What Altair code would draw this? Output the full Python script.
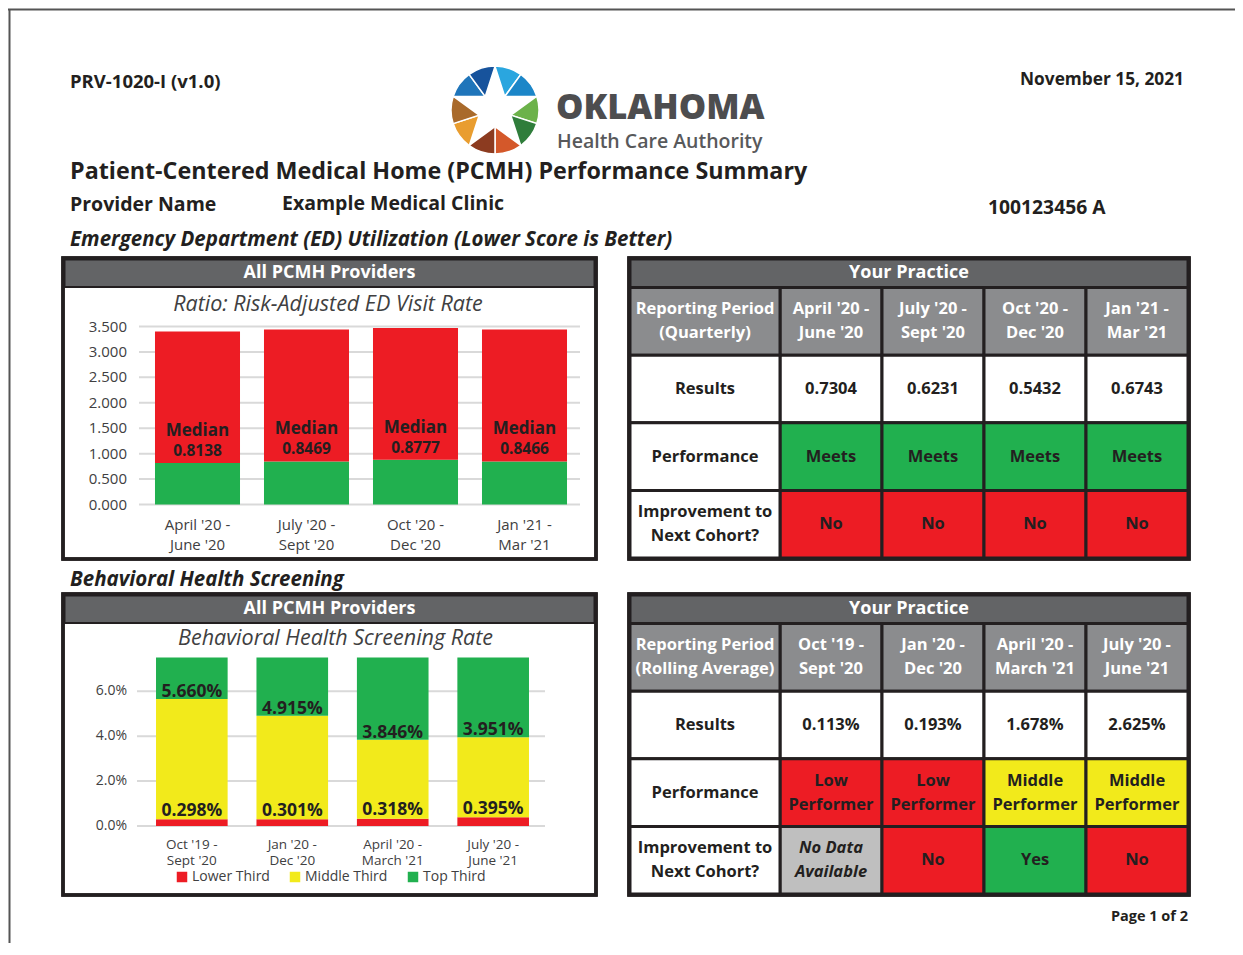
import altair as alt
import pandas as pd

# ---------------- data ----------------
doc_code = "PRV-1020-I (v1.0)"
doc_date = "November 15, 2021"
org_name = "OKLAHOMA"
org_sub = "Health Care Authority"
report_title = "Patient-Centered Medical Home (PCMH) Performance Summary"
provider_label = "Provider Name"
provider_name = "Example Medical Clinic"
provider_id = "100123456 A"
ed_heading = "Emergency Department (ED) Utilization (Lower Score is Better)"
bh_heading = "Behavioral Health Screening"
panel_left = "All PCMH Providers"
panel_right = "Your Practice"
ed_chart_title = "Ratio: Risk-Adjusted ED Visit Rate"
bh_chart_title = "Behavioral Health Screening Rate"
median_word = "Median"
page_note = "Page 1 of 2"

ed_periods = ["April '20 -\nJune '20", "July '20 -\nSept '20", "Oct '20 -\nDec '20", "Jan '21 -\nMar '21"]
ed_median = [0.8138, 0.8469, 0.8777, 0.8466]
ed_range_top = [3.40, 3.44, 3.47, 3.44]
ed_ticks = [0.0, 0.5, 1.0, 1.5, 2.0, 2.5, 3.0, 3.5]
ed_results = ["0.7304", "0.6231", "0.5432", "0.6743"]
ed_performance = ["Meets", "Meets", "Meets", "Meets"]
ed_improvement = ["No", "No", "No", "No"]
ed_row_labels = ["Reporting Period\n(Quarterly)", "Results", "Performance", "Improvement to\nNext Cohort?"]

bh_periods = ["Oct '19 -\nSept '20", "Jan '20 -\nDec '20", "April '20 -\nMarch '21", "July '20 -\nJune '21"]
bh_lower = [0.298, 0.301, 0.318, 0.395]
bh_middle = [5.660, 4.915, 3.846, 3.951]
bh_top = [7.5, 7.5, 7.5, 7.5]
bh_ticks = [0.0, 2.0, 4.0, 6.0]
bh_segments = ["Lower Third", "Middle Third", "Top Third"]
bh_results = ["0.113%", "0.193%", "1.678%", "2.625%"]
bh_performance = ["Low\nPerformer", "Low\nPerformer", "Middle\nPerformer", "Middle\nPerformer"]
bh_improvement = ["No Data\nAvailable", "No", "Yes", "No"]
bh_row_labels = ["Reporting Period\n(Rolling Average)", "Results", "Performance", "Improvement to\nNext Cohort?"]

table_rows = ["period", "results", "performance", "improvement"]

logo_share = [1, 1, 1, 1, 1, 1, 1, 1, 1, 1]
logo_colors = ["#2aa6df", "#1b86c8", "#6cb24a", "#2f7d3b", "#d4582a",
               "#8c3b20", "#e99d2f", "#a96a2b", "#1f75ba", "#17539c"]

# ---------------- style ----------------
FONT = "Open Sans"
INK = "#231f20"
AXIS_INK = "#404041"
GRID = "#d9d9d9"
GREEN = "#21b04f"
RED = "#ed1c24"
YELLOW = "#f2ea1b"
HEAD_DARK = "#636466"
HEAD_GRAY = "#8b8c8e"
NODATA = "#bfbfbf"
STATUS_FILL = {"Meets": GREEN, "Yes": GREEN, "No": RED, "Low\nPerformer": RED,
               "Middle\nPerformer": YELLOW, "No Data\nAvailable": NODATA}
ITALIC_CELLS = ["No Data\nAvailable"]
W, H = 1227, 935
TABLE_LH = 24
STAR = ("M0,-1L0.2234,-0.3074L0.9511,-0.309L0.3614,0.1174L0.5878,0.809L0,0.38"
        "L-0.5878,0.809L-0.3614,0.1174L-0.9511,-0.309L-0.2234,-0.3074Z")


def P(v):
    return v - 8


ONE = pd.DataFrame({"k": [0]})


def label(txt, x, y, size, weight="bold", style="normal", align="left", color=INK):
    return alt.Chart(ONE).mark_text(
        text=txt, align=align, baseline="middle", fontSize=size, fontWeight=weight,
        fontStyle=style, color=color, font=FONT
    ).encode(x=alt.value(P(x)), y=alt.value(P(y)))


def box(x1, y1, x2, y2, fill="white", opacity=1.0, stroke=INK, sw=0.0):
    return alt.Chart(ONE).mark_rect(
        fill=fill, fillOpacity=opacity, stroke=stroke, strokeWidth=sw
    ).encode(x=alt.value(P(x1)), x2=alt.value(P(x2)), y=alt.value(P(y1)), y2=alt.value(P(y2)))


def line(x1, y1, x2, y2, color, sw):
    return alt.Chart(ONE).mark_rule(color=color, strokeWidth=sw).encode(
        x=alt.value(P(x1)), x2=alt.value(P(x2)), y=alt.value(P(y1)), y2=alt.value(P(y2)))


def panel(x1, x2, top, header):
    return [
        box(x1, top, x2, top + 301, fill="white", stroke=INK, sw=3.5),
        box(x1 + 1.5, top + 1.5, x2 - 1.5, top + 29, fill=HEAD_DARK, stroke=INK, sw=2),
        label(header, (x1 + x2) / 2, top + 14.5, 18, color="white", align="center"),
    ]


def frame(x1, x2, top):
    return box(x1, top, x2, top + 301, fill="white", opacity=0.0, stroke=INK, sw=3.5)


def cell_texts(df, x_enc, y_enc):
    """Text layers for table cells; multi-line texts are lifted so the block is centred."""
    out = []
    tk = dict(font=FONT, fontSize=16.5, fontWeight="bold", lineBreak="\n",
              lineHeight=TABLE_LH, baseline="middle")
    nl = df.txt.str.count("\n")
    for n in sorted(nl.unique()):
        for it in (False, True):
            sub = df[(nl == n) & (df.it == it)]
            if len(sub) == 0:
                continue
            kw = dict(tk)
            if it:
                kw["fontStyle"] = "italic"
            out.append(alt.Chart(sub).mark_text(dy=-n * TABLE_LH / 2, **kw).encode(
                x=x_enc, y=y_enc, text="txt:N", color=alt.Color("ink:N", scale=None)))
    return out


def table_layer(periods, results, perf, impr, row_labels, top):
    rows_top, rows_bot = top + 29.5, top + 300
    recs = []
    for p, r, pf, im in zip(periods, results, perf, impr):
        recs.append(dict(col=p, row="period", txt=p, fill=HEAD_GRAY, ink="white", it=False))
        recs.append(dict(col=p, row="results", txt=r, fill="white", ink=INK, it=False))
        recs.append(dict(col=p, row="performance", txt=pf, fill=STATUS_FILL[pf], ink=INK, it=False))
        recs.append(dict(col=p, row="improvement", txt=im, fill=STATUS_FILL[im], ink=INK,
                         it=im in ITALIC_CELLS))
    cells = pd.DataFrame(recs)
    heads = pd.DataFrame({"row": table_rows, "txt": row_labels,
                          "fill": [HEAD_GRAY, "white", "white", "white"],
                          "ink": ["white", INK, INK, INK], "it": [False] * 4})
    xs = alt.Scale(domain=periods, range=[P(780), P(1188)], paddingInner=0, paddingOuter=0)
    ys = alt.Scale(domain=table_rows, range=[P(rows_top), P(rows_bot)], paddingInner=0, paddingOuter=0)
    X = alt.X("col:N", scale=xs, axis=None)
    Y = alt.Y("row:N", scale=ys, axis=None)
    layers = [
        alt.Chart(cells).mark_rect(stroke=INK, strokeWidth=3).encode(
            x=X, y=Y, color=alt.Color("fill:N", scale=None)),
        alt.Chart(heads).mark_rect(stroke=INK, strokeWidth=3).encode(
            x=alt.value(P(630)), x2=alt.value(P(780)), y=Y, color=alt.Color("fill:N", scale=None)),
    ]
    layers += cell_texts(cells, X, Y)
    layers += cell_texts(heads, alt.value(P(705)), Y)
    return alt.layer(*layers)


# ---------------- ED chart ----------------
ed_df = pd.DataFrame({"period": ed_periods, "median": ed_median, "top": ed_range_top})
ed_df["mval"] = [f"{m:.4f}" for m in ed_median]
ed_df["mword"] = [median_word] * len(ed_median)
ed_tick_df = pd.DataFrame({"v": ed_ticks})
ed_x = alt.Scale(domain=ed_periods, range=[P(143), P(579)], paddingInner=0.22, paddingOuter=0.11)
ed_y = alt.Scale(domain=[0, 3.5], range=[P(504.5), P(326.5)], nice=False)
EX = alt.X("period:N", scale=ed_x, axis=None)
EY_med = alt.Y("median:Q", scale=ed_y, axis=None)

ed_chart = alt.layer(
    alt.Chart(ed_tick_df).mark_rule(color=GRID, strokeWidth=2).encode(
        y=alt.Y("v:Q", scale=ed_y, axis=None), x=alt.value(P(139)), x2=alt.value(P(580))),
    alt.Chart(ed_tick_df).mark_text(align="right", baseline="middle", font=FONT, fontSize=15,
                                    color=AXIS_INK).encode(
        y=alt.Y("v:Q", scale=ed_y, axis=None), x=alt.value(P(127)),
        text=alt.Text("v:Q", format=".3f")),
    alt.Chart(ed_df).mark_bar(color=GREEN).encode(x=EX, y=EY_med),
    alt.Chart(ed_df).mark_bar(color=RED).encode(x=EX, y=EY_med, y2="top:Q"),
    alt.Chart(ed_df).mark_text(font=FONT, fontSize=17, fontWeight="bold", color=INK,
                               baseline="middle", dy=-32).encode(x=EX, y=EY_med, text="mword:N"),
    alt.Chart(ed_df).mark_text(font=FONT, fontSize=15.5, fontWeight="bold", color=INK,
                               baseline="middle", dy=-12).encode(x=EX, y=EY_med, text="mval:N"),
    alt.Chart(ed_df).mark_text(font=FONT, fontSize=15, color=AXIS_INK, lineBreak="\n",
                               lineHeight=20, baseline="middle").encode(
        x=EX, y=alt.value(P(524.5)), text="period:N"),
)

# ---------------- BH chart ----------------
bh_rows = []
for p, lo, mid, tp in zip(bh_periods, bh_lower, bh_middle, bh_top):
    bh_rows.append(dict(period=p, segment=bh_segments[0], start=0.0, end=lo))
    bh_rows.append(dict(period=p, segment=bh_segments[1], start=lo, end=mid))
    bh_rows.append(dict(period=p, segment=bh_segments[2], start=mid, end=tp))
bh_bars = pd.DataFrame(bh_rows)
bh_df = pd.DataFrame({"period": bh_periods, "lower": bh_lower, "middle": bh_middle})
bh_df["lo_lab"] = [f"{v:.3f}%" for v in bh_lower]
bh_df["mid_lab"] = [f"{v:.3f}%" for v in bh_middle]
bh_tick_df = pd.DataFrame({"v": bh_ticks})
bh_tick_df["lab"] = [f"{v:.1f}%" for v in bh_ticks]
bh_x = alt.Scale(domain=bh_periods, range=[P(141.6), P(543.4)], paddingInner=0.287, paddingOuter=0.1435)
bh_y = alt.Scale(domain=[0, 7.5], range=[P(826), P(657.6)], nice=False)
BX = alt.X("period:N", scale=bh_x, axis=None)
val_kw = dict(font=FONT, fontSize=17.5, fontWeight="bold", color=INK, baseline="middle")

bh_chart = alt.layer(
    alt.Chart(bh_tick_df).mark_rule(color=GRID, strokeWidth=2).encode(
        y=alt.Y("v:Q", scale=bh_y, axis=None), x=alt.value(P(137)), x2=alt.value(P(545))),
    alt.Chart(bh_tick_df).mark_text(align="right", baseline="middle", font=FONT, fontSize=14,
                                    color=AXIS_INK).encode(
        y=alt.Y("v:Q", scale=bh_y, axis=None), x=alt.value(P(127)), text="lab:N"),
    alt.Chart(bh_bars).mark_bar().encode(
        x=BX, y=alt.Y("start:Q", scale=bh_y, axis=None), y2="end:Q",
        color=alt.Color("segment:N",
                        scale=alt.Scale(domain=bh_segments, range=[RED, YELLOW, GREEN]),
                        legend=alt.Legend(orient="none", legendX=P(175), legendY=P(870),
                                          direction="horizontal", title=None, symbolType="square",
                                          symbolSize=110, symbolStrokeWidth=0, labelFont=FONT,
                                          labelFontSize=14, labelColor=AXIS_INK,
                                          columnPadding=18, labelOffset=3, padding=0))),
    alt.Chart(bh_df).mark_text(dy=-7, **val_kw).encode(
        x=BX, y=alt.Y("middle:Q", scale=bh_y, axis=None), text="mid_lab:N"),
    alt.Chart(bh_df).mark_text(dy=-8.5, **val_kw).encode(
        x=BX, y=alt.Y("lower:Q", scale=bh_y, axis=None), text="lo_lab:N"),
    alt.Chart(bh_df).mark_text(font=FONT, fontSize=13.5, color=AXIS_INK, lineBreak="\n",
                               lineHeight=16, baseline="middle").encode(
        x=BX, y=alt.value(P(845)), text="period:N"),
)

# ---------------- logo ----------------
logo_df = pd.DataFrame({"piece": list(range(len(logo_share))), "share": logo_share, "color": logo_colors})
logo_arc = alt.Chart(logo_df).mark_arc(outerRadius=44, stroke="white", strokeWidth=1.5).encode(
    theta=alt.Theta("share:Q", stack=True), order=alt.Order("piece:Q"),
    color=alt.Color("color:N", scale=None), x=alt.value(P(495)), y=alt.value(P(110)))
logo_star = alt.Chart(ONE).mark_point(shape=STAR, size=8464, filled=True, color="white",
                                      opacity=1, strokeWidth=0).encode(
    x=alt.value(P(495)), y=alt.value(P(110)))

# ---------------- assemble ----------------
layers = [
    line(8, 9.5, 1243, 9.5, "#555555", 2),
    line(9.5, 9.5, 9.5, 955, "#555555", 2),
    label(doc_code, 70, 82, 18.5),
    label(doc_date, 1184, 80, 17.3, align="right"),
    logo_arc, logo_star,
    label(org_name, 556, 109, 34.5, weight=800, color="#4d4d4f"),
    label(org_sub, 557, 142, 19.5, weight=600, color="#58595b"),
    label(report_title, 70, 172, 23.3),
    label(provider_label, 70, 205, 19.5),
    label(provider_name, 282, 204, 19.5),
    label(provider_id, 988, 208, 19.3),
    label(ed_heading, 70, 240, 20.5, style="italic"),
    label(bh_heading, 70, 580, 20.5, style="italic"),
]
layers += panel(63, 596, 258, panel_left)
layers += [label(ed_chart_title, 328, 305, 21.5, weight="normal", style="italic", align="center", color=AXIS_INK),
           ed_chart]
layers += panel(629, 1189, 258, panel_right)
layers += [table_layer(ed_periods, ed_results, ed_performance, ed_improvement, ed_row_labels, 258)]
layers += panel(63, 596, 594, panel_left)
layers += [label(bh_chart_title, 335.5, 639, 21.5, weight="normal", style="italic", align="center", color=AXIS_INK),
           bh_chart]
layers += panel(629, 1189, 594, panel_right)
layers += [table_layer(bh_periods, bh_results, bh_performance, bh_improvement, bh_row_labels, 594)]
layers += [frame(63, 596, 258), frame(629, 1189, 258), frame(63, 596, 594), frame(629, 1189, 594)]
layers += [label(page_note, 1188, 917, 14.5, align="right")]

chart = alt.layer(*layers).resolve_scale(
    x="independent", y="independent", color="independent"
).properties(
    width=W, height=H, autosize=alt.AutoSizeParams(type="none"), padding=0, background="white"
).configure_view(strokeWidth=0)

chart.save("out.html", embed_options={"renderer": "svg", "actions": False})
